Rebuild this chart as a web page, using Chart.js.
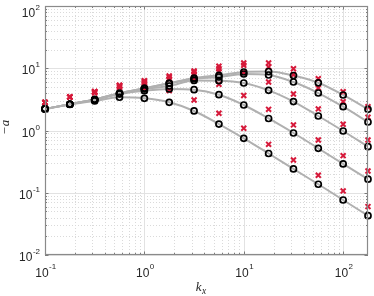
<!DOCTYPE html>
<html><head><meta charset="utf-8">
<script src="https://cdn.jsdelivr.net/npm/chart.js@4"></script>
<style>html,body{margin:0;padding:0;background:#fff;overflow:hidden}canvas{display:block}</style>
</head><body>
<canvas id="c" width="374" height="296"></canvas>
<script>
// wavenumbers
const kx = [0.1, 0.1778, 0.3162, 0.5623, 1, 1.778, 3.162, 5.623, 10, 17.78, 31.62, 56.23, 100, 177.8];
// black circles (five curves)
const circA = [2.22, 2.64, 3.15, 3.96, 4.76, 5.73, 6.97, 7.70, 8.71, 8.87, 7.65, 5.84, 3.72, 2.19];
const circB = [2.22, 2.64, 3.15, 3.96, 4.76, 5.73, 6.72, 7.23, 8.08, 7.79, 6.01, 4.00, 2.41, 1.37];
const circC = [2.22, 2.64, 3.15, 3.93, 4.64, 5.19, 6.36, 6.31, 5.80, 4.42, 2.92, 1.71, 0.982, 0.549];
const circD = [2.22, 2.64, 3.11, 3.86, 4.36, 4.64, 4.52, 3.76, 2.57, 1.56, 0.912, 0.518, 0.290, 0.165];
const circE = [2.22, 2.62, 2.98, 3.42, 3.29, 2.84, 2.06, 1.27, 0.749, 0.427, 0.241, 0.137, 0.0765, 0.0428];
// red crosses (five curves)
const crossA = [2.82, 3.45, 4.20, 5.28, 6.31, 7.51, 9.03, 10.75, 12.14, 12.14, 9.83, 6.79, 4.20, 2.41];
const crossB = [2.82, 3.45, 4.20, 5.28, 6.13, 7.23, 8.71, 9.83, 11.15, 10.47, 7.88, 4.82, 2.90, 1.63];
const crossC = [2.82, 3.45, 4.20, 5.28, 5.90, 6.72, 8.08, 8.80, 8.55, 6.01, 3.86, 2.22, 1.26, 0.704];
const crossD = [2.82, 3.45, 4.20, 5.09, 5.73, 6.65, 6.72, 5.52, 3.65, 2.19, 1.23, 0.704, 0.394, 0.224];
const crossE = [2.82, 3.45, 4.00, 4.91, 4.76, 4.36, 3.09, 1.89, 1.085, 0.600, 0.336, 0.191, 0.107, 0.060];
// axes
const xTickValues = [0.1, 1, 10, 100];
const xTickExps = ['-1', '0', '1', '2'];
const yTickValues = [0.01, 0.1, 1, 10, 100];
const yTickExps = ['-2', '-1', '0', '1', '2'];
const xTitle = ['k', 'x'];
const yTitle = '\u2212a';

const circles = [circA, circB, circC, circD, circE];
const crosses = [crossA, crossB, crossC, crossD, crossE];
const pts = arr => arr.map((v, i) => ({x: kx[i], y: v}));

const datasets = [];
circles.forEach(c => datasets.push({
  data: pts(c), borderColor: '#b0b0b0', borderWidth: 2, pointRadius: 0,
  cubicInterpolationMode: 'monotone', fill: false, order: 3
}));
crosses.forEach(c => datasets.push({
  data: pts(c), showLine: false, pointStyle: 'crossRot', pointRadius: 3.5,
  pointBorderWidth: 2, pointBorderColor: '#d6193a', pointBackgroundColor: '#d6193a',
  order: 2, clip: false
}));
circles.forEach(c => datasets.push({
  data: pts(c), showLine: false, pointStyle: 'circle', pointRadius: 3,
  pointBorderWidth: 1.7, pointBorderColor: '#000', pointBackgroundColor: 'rgba(0,0,0,0)',
  order: 1, clip: false
}));

function decades(scale) {
  return [Math.floor(Math.log10(scale.min) + 1e-9), Math.ceil(Math.log10(scale.max) - 1e-9)];
}

const axesPlugin = {
  id: 'axesPlugin',
  beforeDatasetsDraw(chart) {
    const {ctx, chartArea: a, scales: {x, y}} = chart;
    ctx.save();
    ctx.lineWidth = 1;
    // minor grid
    ctx.strokeStyle = '#dadada';
    ctx.setLineDash([1, 2]);
    const [x0, x1] = decades(x);
    for (let d = x0; d < x1; d++) for (let m = 2; m <= 9; m++) {
      const v = m * Math.pow(10, d);
      if (v <= x.min || v >= x.max) continue;
      const p = Math.round(x.getPixelForValue(v)) + 0.5;
      ctx.beginPath(); ctx.moveTo(p, a.top); ctx.lineTo(p, a.bottom); ctx.stroke();
    }
    const [y0, y1] = decades(y);
    for (let d = y0; d < y1; d++) for (let m = 2; m <= 9; m++) {
      const v = m * Math.pow(10, d);
      if (v <= y.min || v >= y.max) continue;
      const p = Math.round(y.getPixelForValue(v)) + 0.5;
      ctx.beginPath(); ctx.moveTo(a.left, p); ctx.lineTo(a.right, p); ctx.stroke();
    }
    // major grid
    ctx.setLineDash([]);
    ctx.strokeStyle = '#e2e2e2';
    xTickValues.forEach(v => {
      const p = Math.round(x.getPixelForValue(v)) + 0.5;
      ctx.beginPath(); ctx.moveTo(p, a.top); ctx.lineTo(p, a.bottom); ctx.stroke();
    });
    yTickValues.forEach(v => {
      const p = Math.round(y.getPixelForValue(v)) + 0.5;
      ctx.beginPath(); ctx.moveTo(a.left, p); ctx.lineTo(a.right, p); ctx.stroke();
    });
    ctx.restore();
  },
  afterDatasetsDraw(chart) {
    const {ctx, chartArea: a, scales: {x, y}} = chart;
    ctx.save();
    ctx.strokeStyle = '#7a7a7a';
    ctx.lineWidth = 1;
    // ticks (inward, all sides)
    const tick = (p, len, horiz) => {
      ctx.beginPath();
      if (horiz) {
        ctx.moveTo(p, a.bottom); ctx.lineTo(p, a.bottom - len);
        ctx.moveTo(p, a.top); ctx.lineTo(p, a.top + len);
      } else {
        ctx.moveTo(a.left, p); ctx.lineTo(a.left + len, p);
        ctx.moveTo(a.right, p); ctx.lineTo(a.right - len, p);
      }
      ctx.stroke();
    };
    const [x0, x1] = decades(x);
    for (let d = x0; d < x1; d++) for (let m = 2; m <= 9; m++) {
      const v = m * Math.pow(10, d);
      if (v <= x.min || v >= x.max) continue;
      tick(Math.round(x.getPixelForValue(v)) + 0.5, 2, true);
    }
    xTickValues.forEach(v => tick(Math.round(x.getPixelForValue(v)) + 0.5, 3.5, true));
    const [y0, y1] = decades(y);
    for (let d = y0; d < y1; d++) for (let m = 2; m <= 9; m++) {
      const v = m * Math.pow(10, d);
      if (v <= y.min || v >= y.max) continue;
      tick(Math.round(y.getPixelForValue(v)) + 0.5, 2, false);
    }
    yTickValues.forEach(v => tick(Math.round(y.getPixelForValue(v)) + 0.5, 3.5, false));
    // box
    ctx.strokeStyle = '#8a8a8a';
    ctx.lineWidth = 1.2;
    ctx.strokeRect(a.left + 0.5, a.top + 0.5, a.right - a.left - 1, a.bottom - a.top - 1);

    // tick labels
    ctx.fillStyle = '#262626';
    const baseFont = '12px "Liberation Sans", Arial, sans-serif';
    const expFont = '8px "Liberation Sans", Arial, sans-serif';
    ctx.textBaseline = 'alphabetic';
    xTickValues.forEach((v, i) => {
      const p = x.getPixelForValue(v);
      ctx.font = baseFont; const wb = ctx.measureText('10').width;
      ctx.font = expFont; const we = ctx.measureText(xTickExps[i]).width;
      const left = p - (wb + we) / 2 + 0.5;
      ctx.font = baseFont; ctx.textAlign = 'left';
      ctx.fillText('10', left, a.bottom + 22);
      ctx.font = expFont;
      ctx.fillText(xTickExps[i], left + wb + 0.5, a.bottom + 14);
    });
    yTickValues.forEach((v, i) => {
      let p = y.getPixelForValue(v);
      p = Math.max(p, 10.5);
      ctx.font = expFont; const we = ctx.measureText(yTickExps[i]).width;
      const right = a.left - 5;
      ctx.textAlign = 'right';
      ctx.fillText(yTickExps[i], right, p - 1);
      ctx.font = baseFont;
      ctx.fillText('10', right - we - 0.5, p + 6);
    });
    // axis titles
    ctx.font = 'italic 13px "Liberation Serif", "DejaVu Serif", serif';
    const cx = (a.left + a.right) / 2 - 5;
    ctx.textAlign = 'left';
    const wk = ctx.measureText(xTitle[0]).width;
    ctx.fillText(xTitle[0], cx - wk, 291);
    ctx.font = 'italic 9.5px "Liberation Serif", "DejaVu Serif", serif';
    ctx.fillText(xTitle[1], cx + 0.5, 294);
    ctx.save();
    ctx.translate(6, (a.top + a.bottom) / 2 - 3);
    ctx.rotate(-Math.PI / 2);
    ctx.font = 'italic 13px "Liberation Serif", "DejaVu Serif", serif';
    ctx.textAlign = 'center';
    ctx.textBaseline = 'middle';
    ctx.fillText(yTitle, 0, 0);
    ctx.restore();
    ctx.restore();
  }
};

new Chart(document.getElementById('c'), {
  type: 'line',
  data: {datasets},
  options: {
    responsive: false, animation: false,
    layout: {padding: {top: 6, right: 2, left: 0, bottom: 0}},
    plugins: {legend: {display: false}, tooltip: {enabled: false}},
    scales: {
      x: {type: 'logarithmic', min: 0.1, max: 177.83,
          grid: {display: false}, border: {display: false}, ticks: {display: false},
          afterFit: s => { s.height = 41; }},
      y: {type: 'logarithmic', min: 0.01, max: 100,
          grid: {display: false}, border: {display: false}, ticks: {display: false},
          afterFit: s => { s.width = 45; }}
    }
  },
  plugins: [axesPlugin]
});
</script>
</body></html>
